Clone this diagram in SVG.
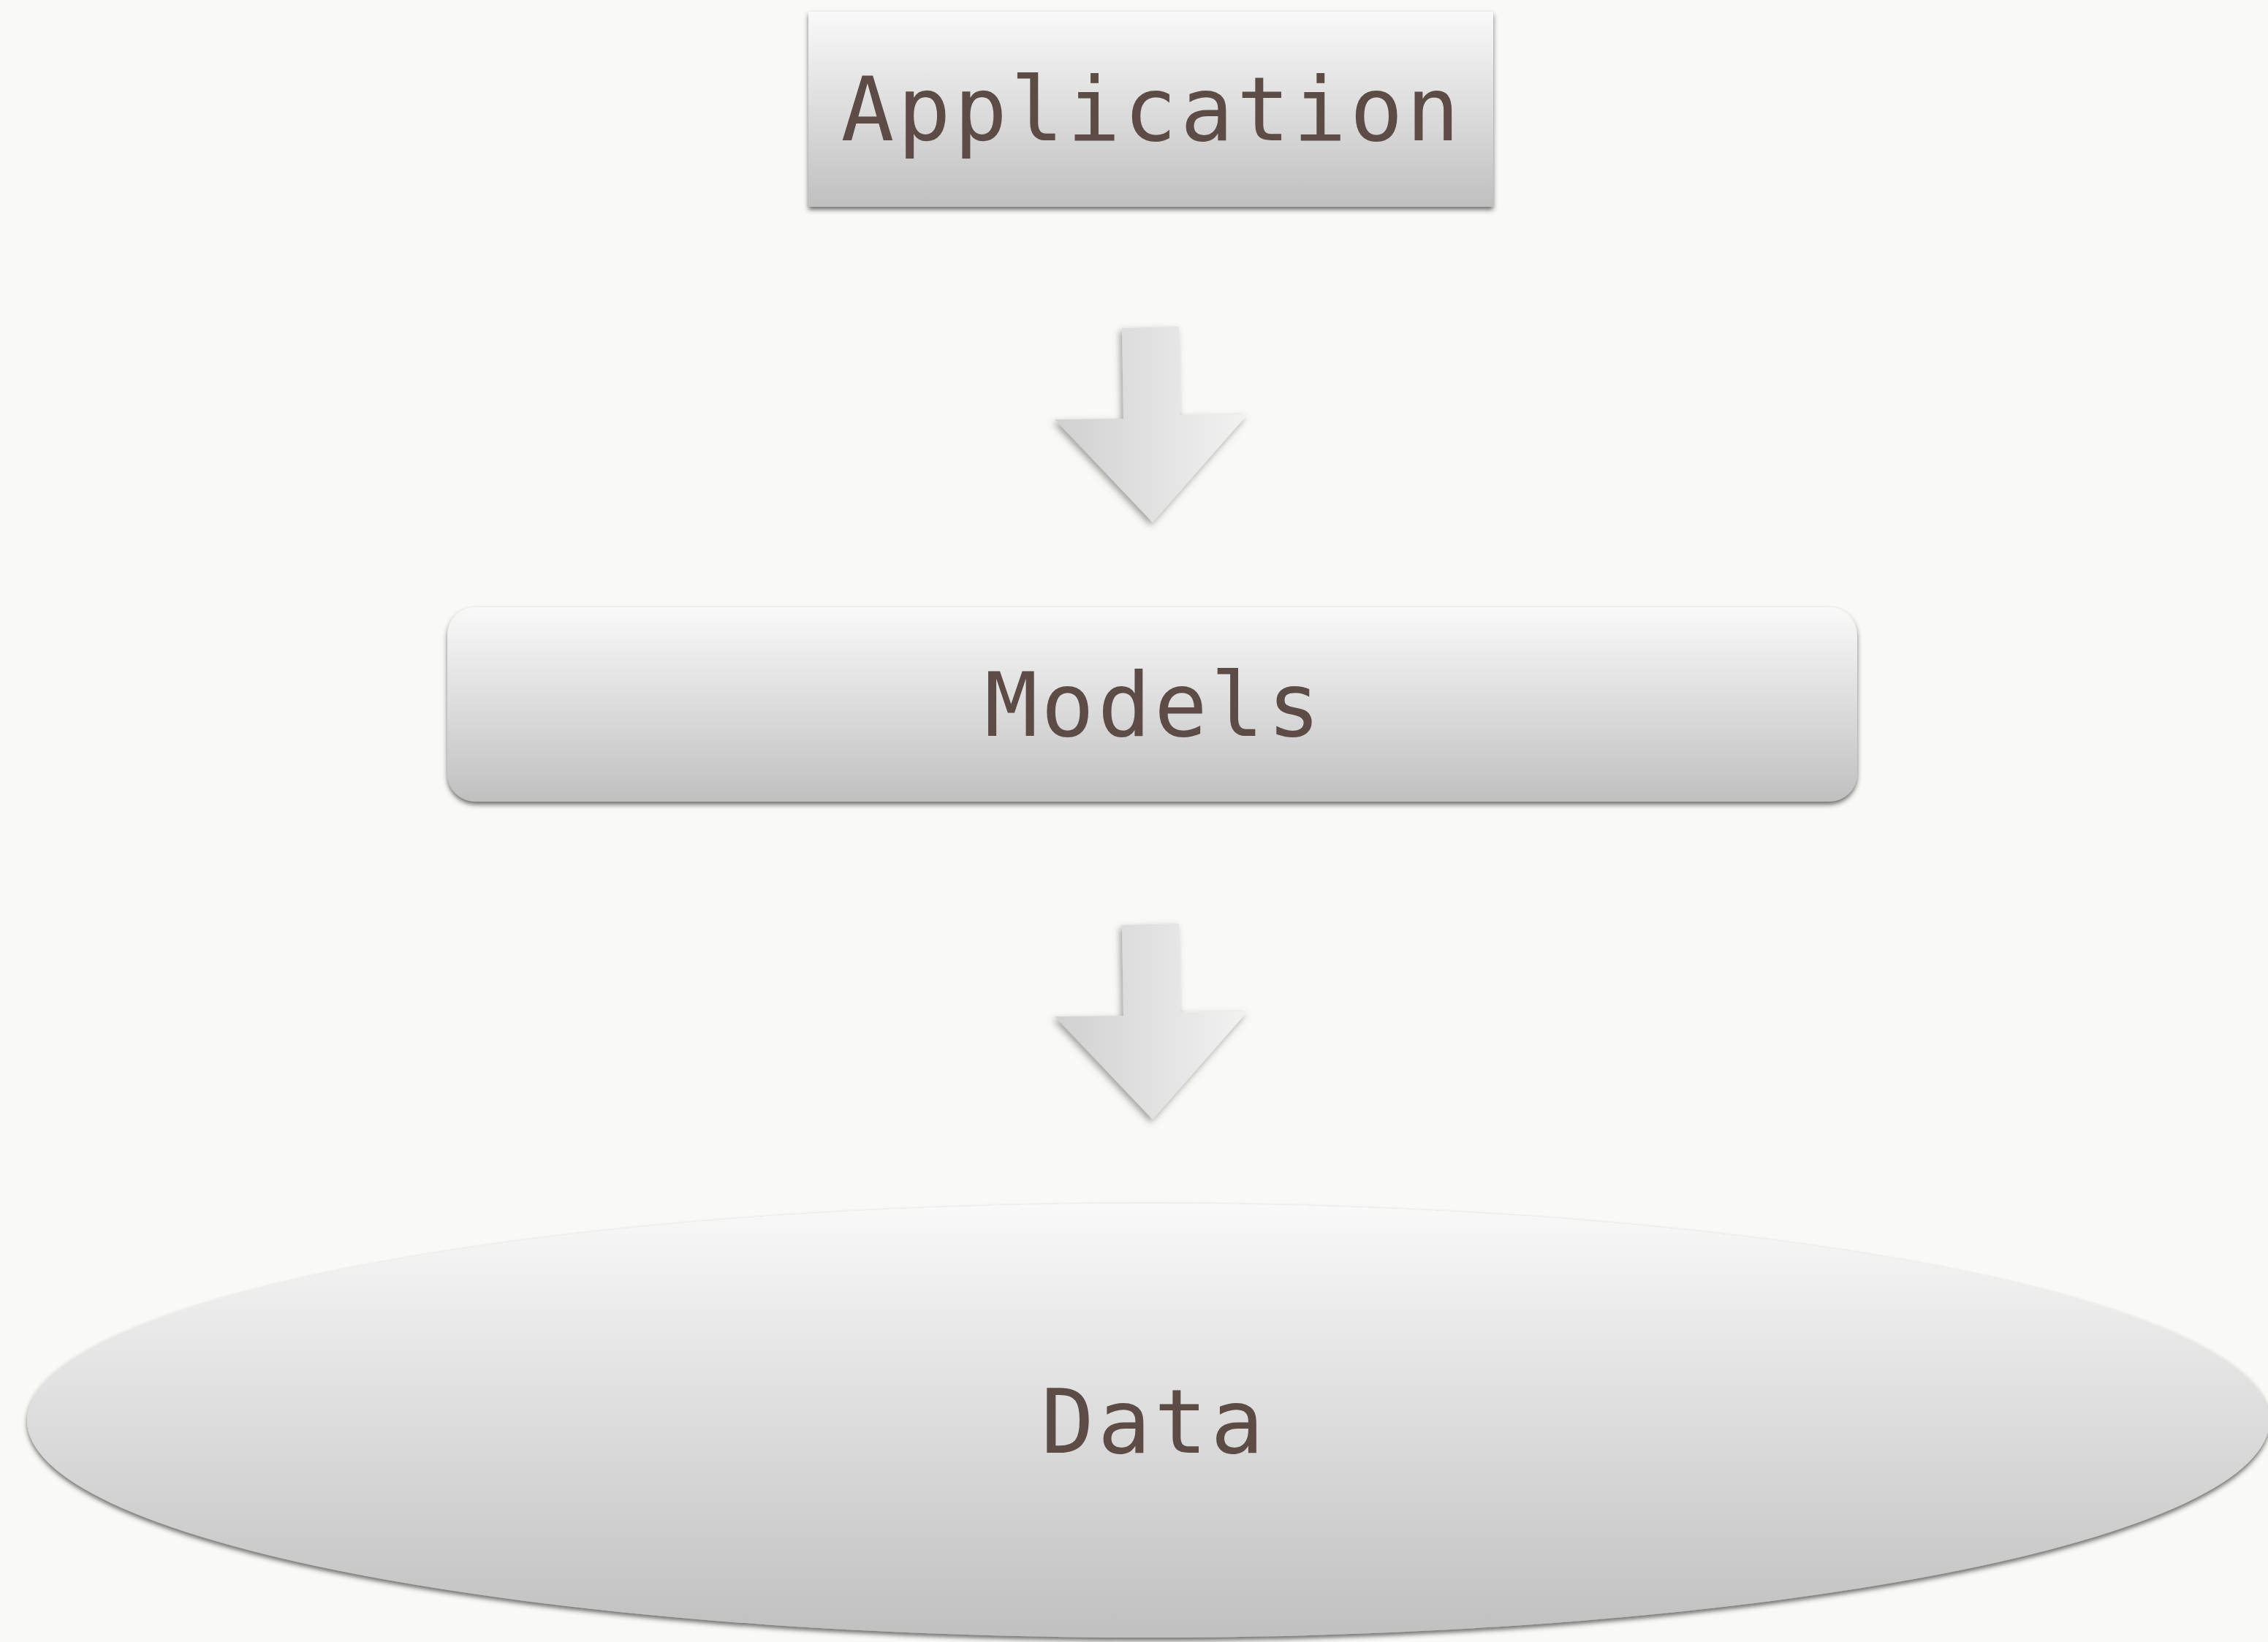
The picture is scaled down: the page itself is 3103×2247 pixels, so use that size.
<svg xmlns="http://www.w3.org/2000/svg" width="3103" height="2247" viewBox="0 0 3103 2247">
  <style>
    .label { font-family: "DejaVu Sans Mono", "Liberation Mono", monospace; font-size: 121px; letter-spacing: 4.5px; fill: #5c4c45; text-anchor: middle; }
    .node { filter: url(#shadow); }
    .arrow { fill: url(#arrowFill); filter: url(#arrowShadow); }
  </style>
  <defs>
    <linearGradient id="nodeFill" x1="0" y1="0" x2="0" y2="1">
      <stop offset="0" stop-color="#f9f9f9"/>
      <stop offset="1" stop-color="#c0c0c0"/>
    </linearGradient>
    <linearGradient id="arrowFill" x1="0" y1="0" x2="1" y2="0">
      <stop offset="0" stop-color="#d0d0d0"/>
      <stop offset="1" stop-color="#f2f2f2"/>
    </linearGradient>
    <filter id="shadow" x="-5%" y="-10%" width="110%" height="125%">
      <feDropShadow dx="0" dy="4" stdDeviation="3" flood-color="#333" flood-opacity="0.7"/>
    </filter>
    <filter id="arrowShadow" x="-15%" y="-10%" width="130%" height="125%">
      <feDropShadow dx="-3" dy="4" stdDeviation="5" flood-color="#555" flood-opacity="0.55"/>
    </filter>
  </defs>

  <rect width="3103" height="2247" fill="#f9f9f7"/>

  <!-- flow arrows between the layers -->
  <g id="connectors">
    <polygon class="arrow" points="1535,449 1613,447 1615,568 1707,567 1577,715 1443,574 1537,573"/>
    <polygon class="arrow" transform="translate(0,817)" points="1535,449 1613,447 1615,568 1707,567 1577,715 1443,574 1537,573"/>
  </g>

  <g id="application">
    <rect class="node" x="1106" y="16" width="937" height="267" fill="url(#nodeFill)"/>
    <text class="label" x="1576" y="192">Application</text>
  </g>

  <g id="models">
    <rect class="node" x="612" y="831" width="1929" height="266" rx="38" ry="38" fill="url(#nodeFill)"/>
    <text class="label" x="1579" y="1007">Models</text>
  </g>

  <g id="data">
    <ellipse class="node" cx="1571" cy="1944" rx="1534" ry="297" fill="url(#nodeFill)"/>
    <text class="label" x="1579" y="1988">Data</text>
  </g>
</svg>
